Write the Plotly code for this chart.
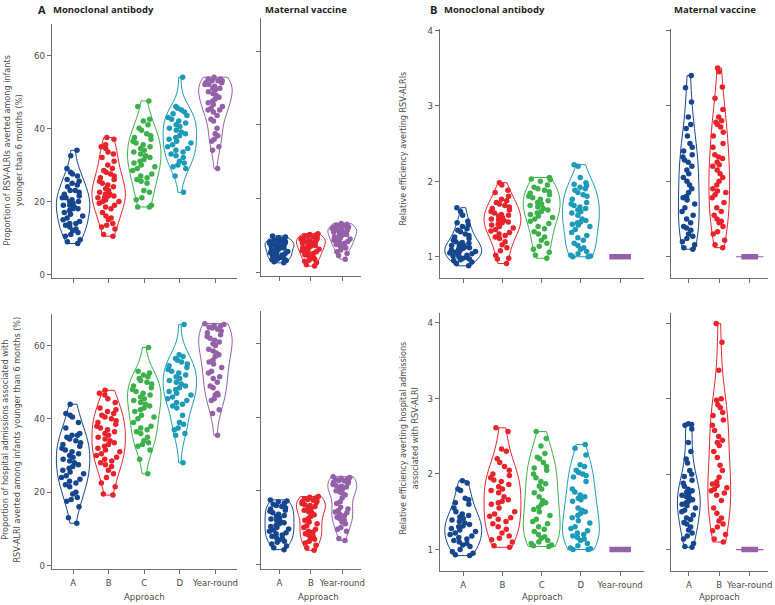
import plotly.graph_objects as go

W, H = 775, 605

COLORS = {'A': '#16468e', 'B': '#e8232b', 'C': '#3cb04a', 'D': '#1b9bb8', 'Year-round': '#9460a8'}
MONO_CATS = ['A', 'B', 'C', 'D', 'Year-round']
MAT_CATS = ['A', 'B', 'Year-round']

# --- panel A, top: proportion of RSV-ALRIs averted (%) ---
alri_mono_A = [34.0, 32.5, 29.0, 28.0, 27.5, 27.0, 26.0, 25.5, 25.0, 24.5, 24.0, 23.0, 23.0, 22.5, 22.0, 21.5,
               21.0, 21.0, 20.5, 20.0, 20.0, 19.5, 19.0, 19.0, 18.5, 18.0, 18.0, 17.5, 17.0, 16.5, 16.0, 15.5,
               15.0, 14.5, 14.0, 14.0, 13.5, 13.0, 12.5, 12.0, 11.5, 11.0, 10.5, 9.5, 9.0, 8.5]
alri_mono_B = [37.5, 37.0, 35.5, 35.0, 34.5, 33.5, 33.0, 32.0, 31.0, 30.0, 29.0, 28.5, 28.0, 27.5, 27.0, 26.5,
               26.0, 25.5, 25.0, 24.5, 24.0, 23.5, 23.0, 22.5, 22.0, 22.0, 21.5, 21.5, 21.0, 21.0, 20.5, 20.0,
               20.0, 19.5, 19.0, 18.5, 18.0, 17.0, 16.0, 15.5, 15.0, 14.0, 13.5, 13.0, 12.5, 11.0, 10.5]
alri_mono_C = [47.5, 46.0, 42.5, 42.0, 41.0, 40.0, 39.5, 38.5, 38.0, 37.5, 37.0, 36.5, 36.0, 35.5, 35.0, 34.5,
               34.0, 33.5, 33.0, 32.5, 32.0, 31.5, 31.0, 30.5, 30.0, 29.5, 29.0, 28.5, 27.5, 27.0, 26.5, 26.0,
               25.5, 25.0, 23.0, 22.5, 21.0, 20.5, 19.0, 18.5, 18.5]
alri_mono_D = [54.0, 46.0, 45.5, 45.0, 44.5, 44.0, 43.5, 43.0, 42.5, 42.0, 41.5, 41.0, 40.5, 40.0, 39.5, 39.0,
               38.5, 38.0, 37.5, 37.0, 36.5, 36.0, 35.5, 35.0, 34.5, 34.0, 33.5, 33.0, 32.5, 32.0, 31.0, 30.5,
               30.0, 29.5, 29.0, 27.0, 22.5]
alri_mono_YR = [54.0, 53.5, 53.5, 53.0, 53.0, 53.0, 52.5, 52.5, 52.0, 52.0, 51.5, 51.0, 51.0, 50.5, 50.0, 49.5,
                49.0, 48.5, 48.0, 47.5, 47.0, 46.5, 46.0, 45.5, 45.0, 45.0, 44.5, 43.5, 42.5, 42.0, 40.0, 38.5,
                38.0, 37.0, 36.5, 35.0, 34.0, 29.0]
alri_mat_A = [9.8, 9.5, 9.3, 9.0, 8.8, 8.6, 8.5, 8.3, 8.2, 8.0, 7.9, 7.8, 7.6, 7.5, 7.3, 7.2, 7.0, 6.9, 6.7, 6.5,
              6.3, 6.1, 6.0, 5.8, 5.6, 5.4, 5.2, 5.0, 4.8, 4.6, 4.4, 4.2, 4.0, 3.9, 3.7, 3.5, 3.3, 3.1, 2.8, 2.5]
alri_mat_B = [10.4, 10.2, 10.0, 9.8, 9.7, 9.5, 9.4, 9.2, 9.0, 8.9, 8.7, 8.5, 8.3, 8.2, 8.0, 7.8, 7.6, 7.4, 7.2,
              7.0, 6.8, 6.6, 6.4, 6.2, 6.0, 5.8, 5.5, 5.2, 5.0, 4.7, 4.4, 4.1, 3.8, 3.5, 3.2, 2.9, 2.5, 2.0, 1.6]
alri_mat_YR = [13.2, 13.0, 12.8, 12.6, 12.5, 12.3, 12.1, 12.0, 11.8, 11.6, 11.5, 11.3, 11.1, 11.0, 10.8, 10.6,
               10.4, 10.2, 10.0, 9.8, 9.5, 9.2, 9.0, 8.8, 8.6, 8.3, 8.0, 7.8, 7.5, 7.2, 7.0, 6.8, 6.5, 6.0, 5.5,
               5.0, 4.5, 3.5]

# --- panel A, bottom: proportion of hospital admissions averted (%) ---
hosp_mono_A = [44.0, 41.5, 41.0, 40.5, 39.0, 37.5, 36.0, 35.5, 35.5, 35.0, 34.5, 34.0, 33.5, 33.0, 32.5, 32.0,
               31.5, 31.0, 30.5, 30.0, 29.5, 29.0, 28.5, 28.0, 27.5, 27.0, 26.5, 26.0, 25.5, 25.0, 24.5, 24.0,
               23.5, 23.0, 22.5, 22.0, 21.5, 20.0, 19.5, 18.5, 18.0, 17.5, 16.0, 13.0, 11.5]
hosp_mono_B = [47.8, 47.0, 46.5, 45.5, 44.5, 43.0, 42.5, 42.0, 41.5, 41.0, 40.5, 40.0, 39.5, 39.0, 38.5, 38.0,
               37.5, 37.0, 36.5, 36.0, 35.5, 35.0, 34.5, 34.0, 33.5, 33.0, 32.5, 32.0, 31.5, 31.0, 30.5, 30.0,
               29.5, 29.0, 28.5, 28.0, 27.5, 27.0, 26.0, 25.0, 24.0, 22.5, 21.5, 19.5, 19.2]
hosp_mono_C = [59.5, 53.0, 52.5, 52.0, 51.5, 51.0, 50.5, 50.0, 49.5, 49.0, 48.5, 48.0, 47.5, 47.0, 46.5, 46.0,
               45.5, 45.0, 44.5, 44.0, 43.5, 43.0, 42.5, 42.0, 41.0, 40.5, 40.0, 39.0, 38.0, 37.5, 37.0, 36.5,
               36.0, 35.0, 34.0, 33.5, 33.0, 32.5, 31.5, 29.0, 25.0]
hosp_mono_D = [65.8, 57.5, 57.0, 56.5, 56.0, 55.5, 55.0, 54.5, 54.0, 53.5, 53.0, 52.5, 52.0, 51.5, 51.0, 50.5,
               50.0, 49.5, 49.0, 48.5, 48.0, 47.5, 47.0, 46.5, 46.0, 45.5, 45.0, 44.5, 44.0, 43.5, 43.0, 41.0,
               39.0, 38.5, 37.5, 37.0, 36.0, 35.5, 28.0]
hosp_mono_YR = [66.0, 65.8, 65.5, 65.3, 65.0, 64.8, 64.5, 64.0, 63.5, 63.0, 62.5, 62.0, 61.5, 61.0, 60.5, 60.0,
                59.0, 58.5, 58.0, 57.5, 57.0, 56.0, 55.5, 55.0, 54.0, 53.0, 52.5, 51.5, 51.0, 50.0, 49.0, 48.5,
                47.0, 46.5, 46.5, 45.5, 45.0, 42.5, 41.5, 35.5]
hosp_mat_A = [17.5, 17.2, 17.0, 16.6, 16.3, 16.0, 15.7, 15.4, 15.0, 14.7, 14.4, 14.0, 13.6, 13.3, 13.0, 12.6,
              12.3, 12.0, 11.6, 11.3, 11.0, 10.6, 10.3, 10.0, 9.6, 9.3, 9.0, 8.6, 8.3, 8.0, 7.6, 7.3, 7.0, 6.6,
              6.3, 6.0, 5.5, 5.0, 4.5, 4.0]
hosp_mat_B = [18.4, 18.2, 18.0, 17.8, 17.6, 17.4, 17.2, 17.0, 16.8, 16.5, 16.2, 16.0, 15.7, 15.4, 15.0, 14.7,
              14.3, 14.0, 13.5, 13.0, 12.5, 12.0, 11.5, 11.0, 10.5, 10.0, 9.5, 9.0, 8.7, 8.3, 8.0, 7.6, 7.2, 6.8,
              6.3, 5.8, 5.2, 4.5, 3.8]
hosp_mat_YR = [23.8, 23.6, 23.4, 23.2, 23.0, 22.8, 22.6, 22.4, 22.2, 22.0, 21.7, 21.4, 21.2, 21.0, 20.7, 20.4,
               20.0, 19.6, 19.2, 18.8, 18.0, 17.0, 16.5, 15.5, 15.0, 14.6, 14.2, 14.0, 13.6, 13.2, 12.8, 12.4,
               12.0, 11.5, 11.0, 10.0, 9.5, 9.0, 7.0, 6.5]

# --- panel B, top: relative efficiency averting RSV-ALRIs ---
eff_alri_mono_A = [1.65, 1.60, 1.55, 1.47, 1.45, 1.42, 1.40, 1.37, 1.35, 1.33, 1.30, 1.28, 1.26, 1.24, 1.22,
                   1.20, 1.19, 1.18, 1.17, 1.16, 1.15, 1.14, 1.13, 1.12, 1.11, 1.10, 1.09, 1.08, 1.07, 1.06,
                   1.05, 1.04, 1.03, 1.02, 1.01, 1.00, 0.99, 0.98, 0.97, 0.96, 0.95, 0.93, 0.91, 0.88]
eff_alri_mono_B = [1.98, 1.95, 1.88, 1.85, 1.80, 1.76, 1.74, 1.72, 1.70, 1.68, 1.66, 1.64, 1.62, 1.60, 1.58,
                   1.56, 1.55, 1.54, 1.52, 1.50, 1.49, 1.48, 1.46, 1.45, 1.43, 1.42, 1.40, 1.38, 1.36, 1.34,
                   1.32, 1.30, 1.28, 1.26, 1.24, 1.20, 1.16, 1.12, 1.08, 1.02, 0.98, 0.97, 0.91]
eff_alri_mono_C = [2.05, 2.03, 2.02, 2.00, 1.95, 1.92, 1.90, 1.88, 1.86, 1.84, 1.82, 1.80, 1.78, 1.76, 1.74,
                   1.72, 1.70, 1.68, 1.66, 1.64, 1.62, 1.60, 1.58, 1.56, 1.54, 1.52, 1.50, 1.47, 1.44, 1.40,
                   1.37, 1.33, 1.30, 1.26, 1.22, 1.18, 1.14, 1.10, 1.06, 1.02, 0.98]
eff_alri_mono_D = [2.22, 2.20, 2.05, 1.98, 1.96, 1.94, 1.92, 1.90, 1.88, 1.85, 1.82, 1.80, 1.76, 1.72, 1.70,
                   1.68, 1.66, 1.64, 1.62, 1.60, 1.58, 1.55, 1.50, 1.48, 1.46, 1.45, 1.43, 1.42, 1.40, 1.36,
                   1.32, 1.28, 1.25, 1.22, 1.18, 1.15, 1.12, 1.10, 1.07, 1.04, 1.02, 1.01, 1.00, 1.00]
eff_alri_mat_A = [3.40, 3.24, 3.05, 2.85, 2.75, 2.70, 2.60, 2.50, 2.45, 2.40, 2.35, 2.32, 2.28, 2.25, 2.20,
                  2.15, 2.10, 2.05, 2.00, 1.95, 1.90, 1.85, 1.80, 1.78, 1.75, 1.70, 1.65, 1.60, 1.55, 1.50,
                  1.45, 1.40, 1.38, 1.35, 1.30, 1.27, 1.24, 1.20, 1.16, 1.12, 1.10]
eff_alri_mat_B = [3.50, 3.45, 3.25, 3.10, 2.95, 2.85, 2.80, 2.78, 2.75, 2.72, 2.65, 2.60, 2.50, 2.45, 2.35,
                  2.32, 2.30, 2.25, 2.22, 2.20, 2.15, 2.10, 2.05, 2.00, 1.95, 1.90, 1.87, 1.85, 1.82, 1.78,
                  1.72, 1.65, 1.60, 1.55, 1.50, 1.47, 1.45, 1.40, 1.33, 1.30, 1.22, 1.16, 1.12]

# --- panel B, bottom: relative efficiency averting hospital admissions ---
eff_hosp_mono_A = [1.91, 1.88, 1.80, 1.78, 1.68, 1.66, 1.62, 1.60, 1.55, 1.50, 1.47, 1.45, 1.43, 1.41, 1.39,
                   1.37, 1.35, 1.33, 1.31, 1.30, 1.28, 1.26, 1.24, 1.22, 1.20, 1.18, 1.16, 1.14, 1.12, 1.10,
                   1.08, 1.06, 1.04, 1.00, 0.97, 0.95, 0.93, 0.92]
eff_hosp_mono_B = [2.61, 2.56, 2.33, 2.30, 2.20, 2.15, 2.10, 2.05, 2.00, 1.98, 1.95, 1.92, 1.90, 1.86, 1.83,
                   1.80, 1.78, 1.75, 1.70, 1.66, 1.64, 1.62, 1.60, 1.55, 1.50, 1.47, 1.44, 1.42, 1.40, 1.37,
                   1.34, 1.30, 1.27, 1.22, 1.18, 1.15, 1.13, 1.10, 1.05, 1.03]
eff_hosp_mono_C = [2.56, 2.47, 2.37, 2.27, 2.22, 2.20, 2.15, 2.10, 2.08, 2.05, 2.00, 1.95, 1.90, 1.87, 1.84,
                   1.80, 1.75, 1.70, 1.65, 1.62, 1.60, 1.56, 1.53, 1.50, 1.45, 1.40, 1.37, 1.34, 1.30, 1.27,
                   1.24, 1.20, 1.17, 1.15, 1.12, 1.10, 1.08, 1.06, 1.05, 1.04]
eff_hosp_mono_D = [2.39, 2.34, 2.25, 2.12, 2.10, 2.05, 2.02, 2.00, 1.98, 1.96, 1.90, 1.80, 1.76, 1.72, 1.70,
                   1.68, 1.66, 1.64, 1.55, 1.52, 1.50, 1.48, 1.45, 1.42, 1.38, 1.35, 1.30, 1.28, 1.25, 1.22,
                   1.20, 1.18, 1.16, 1.14, 1.12, 1.08, 1.05, 1.02, 1.01, 1.00, 1.00]
eff_hosp_mat_A = [2.67, 2.66, 2.65, 2.60, 2.42, 2.30, 2.20, 2.15, 2.05, 2.00, 1.97, 1.92, 1.88, 1.84, 1.80,
                  1.78, 1.76, 1.74, 1.72, 1.70, 1.68, 1.66, 1.64, 1.62, 1.60, 1.58, 1.55, 1.52, 1.50, 1.46,
                  1.42, 1.40, 1.36, 1.34, 1.30, 1.26, 1.22, 1.18, 1.14, 1.08, 1.04, 1.03]
eff_hosp_mat_B = [4.00, 3.75, 3.38, 3.00, 2.98, 2.92, 2.88, 2.82, 2.78, 2.72, 2.65, 2.58, 2.50, 2.45, 2.42,
                  2.38, 2.30, 2.22, 2.12, 2.05, 1.96, 1.90, 1.87, 1.85, 1.82, 1.80, 1.78, 1.75, 1.72, 1.65,
                  1.55, 1.48, 1.42, 1.38, 1.34, 1.30, 1.25, 1.20, 1.14, 1.10]

# year-round is the reference strategy: relative efficiency is 1 in every run
eff_year_round = [1.0, 1.0, 1.0, 1.0, 1.0, 1.0, 1.0, 1.0, 1.0, 1.0, 1.0, 1.0, 1.0, 1.0, 1.0,
                  1.0, 1.0, 1.0, 1.0, 1.0, 1.0, 1.0, 1.0, 1.0, 1.0, 1.0, 1.0, 1.0, 1.0, 1.0]

FONT = 'Liberation Sans Narrow, DejaVu Sans Condensed, Arial Narrow, sans-serif'
TXT = '#4a4a4a'
AXC = '#6e6e6e'


def xdom(x0, x1):
    return [x0 / W, x1 / W]


def ydom(top, bottom):
    return [1 - bottom / H, 1 - top / H]


# (suffix, groups, x domain px, y domain px, y range, y ticks, show y labels, show x labels, violin width)
panels = [
    ('', {'A': alri_mono_A, 'B': alri_mono_B, 'C': alri_mono_C, 'D': alri_mono_D, 'Year-round': alri_mono_YR},
     (52, 238), (20, 277), [-1.0, 68.6], [0, 20, 40, 60], True, False, 0.94),
    ('2', {'A': alri_mat_A, 'B': alri_mat_B, 'Year-round': alri_mat_YR},
     (262, 363), (14, 275), [-1.16, 69.07], [0, 20, 40, 60], False, False, 0.92),
    ('3', {'A': eff_alri_mono_A, 'B': eff_alri_mono_B, 'C': eff_alri_mono_C, 'D': eff_alri_mono_D,
           'Year-round': eff_year_round},
     (442, 647), (25, 277), [0.715, 4.02], [1, 2, 3, 4], True, False, 0.94),
    ('4', {'A': eff_alri_mat_A, 'B': eff_alri_mat_B, 'Year-round': eff_year_round},
     (674, 772), (25, 277), [0.715, 4.02], [1, 2, 3, 4], False, False, 0.68),
    ('5', {'A': hosp_mono_A, 'B': hosp_mono_B, 'C': hosp_mono_C, 'D': hosp_mono_D, 'Year-round': hosp_mono_YR},
     (52, 238), (313, 571), [-1.08, 68.66], [0, 20, 40, 60], True, True, 0.94),
    ('6', {'A': hosp_mat_A, 'B': hosp_mat_B, 'Year-round': hosp_mat_YR},
     (262, 363), (310, 571), [-1.35, 68.8], [0, 20, 40, 60], False, True, 0.92),
    ('7', {'A': eff_hosp_mono_A, 'B': eff_hosp_mono_B, 'C': eff_hosp_mono_C, 'D': eff_hosp_mono_D,
           'Year-round': eff_year_round},
     (442, 647), (312, 573), [0.712, 4.13], [1, 2, 3, 4], True, True, 0.94),
    ('8', {'A': eff_hosp_mat_A, 'B': eff_hosp_mat_B, 'Year-round': eff_year_round},
     (674, 772), (312, 573), [0.711, 4.14], [1, 2, 3, 4], False, True, 0.75),
]

fig = go.Figure()
layout = {}

for sfx, groups, xd, yd, yr, yt, ylab, xlab, vw in panels:
    cats = list(groups.keys())
    maternal = len(cats) == 3
    xa, ya = 'x' + sfx, 'y' + sfx
    for cat, vals in groups.items():
        col = COLORS[cat]
        if min(vals) == max(vals):
            # constant series: draw as a flat bar of dots
            if maternal:
                fig.add_trace(go.Box(x=[cat] * len(vals), y=vals, width=0.9, line=dict(color=col, width=1.2),
                                     fillcolor=col, boxpoints=False, showlegend=False, hoverinfo='y',
                                     xaxis=xa, yaxis=ya))
            fig.add_trace(go.Box(x=[cat] * len(vals), y=vals, width=0.55, line=dict(color=col, width=5.5),
                                 fillcolor=col, boxpoints=False, showlegend=False, hoverinfo='y',
                                 xaxis=xa, yaxis=ya))
            continue
        fig.add_trace(go.Violin(
            x=[cat] * len(vals), y=vals, name=cat,
            points='all', pointpos=0, jitter=0.75,
            marker=dict(color=col, size=5.5, line=dict(width=0)),
            line=dict(color=col, width=1), fillcolor='rgba(255,255,255,0)',
            spanmode='hard', scalegroup='g' + sfx, scalemode='width', width=vw,
            showlegend=False, hoveron='points', xaxis=xa, yaxis=ya))

    layout['xaxis' + sfx] = dict(
        domain=xdom(*xd), anchor=ya, type='category', categoryorder='array', categoryarray=cats,
        range=[-0.6, len(cats) - 0.4], showline=True, linecolor=AXC, linewidth=1,
        ticks='outside', ticklen=4, tickcolor=AXC, showgrid=False, zeroline=False,
        showticklabels=xlab, tickfont=dict(family=FONT, size=9.5, color=TXT), fixedrange=True)
    layout['yaxis' + sfx] = dict(
        domain=ydom(*yd), anchor=xa, range=yr, tickvals=yt, showline=True, linecolor=AXC, linewidth=1,
        ticks='outside', ticklen=4, tickcolor=AXC, showgrid=False, zeroline=False,
        showticklabels=ylab, tickfont=dict(family=FONT, size=9.5, color=TXT), fixedrange=True)


def ann(text, x, y, size=9, color=TXT, xanchor='center', angle=0, family=FONT):
    return dict(text=text, x=x / W, y=1 - y / H, xref='paper', yref='paper', showarrow=False,
                xanchor=xanchor, yanchor='middle', textangle=angle,
                font=dict(family=family, size=size, color=color))


TITLE_FONT = 'Open Sans, DejaVu Sans, sans-serif'
annotations = [
    ann('<b>A</b>', 36, 6, size=11, color='#1e1e1e', xanchor='left', family=TITLE_FONT),
    ann('<b>Monoclonal antibody</b>', 51, 6, size=9.5, color='#1e1e1e', xanchor='left', family=TITLE_FONT),
    ann('<b>Maternal vaccine</b>', 264, 6, size=9.5, color='#1e1e1e', xanchor='left', family=TITLE_FONT),
    ann('<b>B</b>', 430, 6, size=11, color='#1e1e1e', xanchor='left', family=TITLE_FONT),
    ann('<b>Monoclonal antibody</b>', 444, 6, size=9.5, color='#1e1e1e', xanchor='left', family=TITLE_FONT),
    ann('<b>Maternal vaccine</b>', 675, 6, size=9.5, color='#1e1e1e', xanchor='left', family=TITLE_FONT),
    ann('Proportion of RSV-ALRIs averted among infants<br>younger than 6 months (%)', 13, 148, angle=-90),
    ann('Proportion of hospital admissions associated with<br>RSV-ALRI averted among infants younger than 6 months (%)',
        11, 440, angle=-90),
    ann('Relative efficiency averting RSV-ALRIs', 405, 146, angle=-90),
    ann('Relative efficiency averting hospital admissions<br>associated with RSV-ALRI', 411, 438, angle=-90),
    ann('Approach', 145, 598, size=9.5),
    ann('Approach', 320, 598, size=9.5),
    ann('Approach', 545, 598, size=9.5),
    ann('Approach', 723, 598, size=9.5),
]

fig.update_layout(
    width=W, height=H, margin=dict(l=0, r=0, t=0, b=0),
    paper_bgcolor='white', plot_bgcolor='white', showlegend=False,
    annotations=annotations, **layout)

# the page's default body margin would push the figure 8px off; drop it
fig.write_html("out.html", config={'displayModeBar': False},
               post_script="document.body.style.margin='0px';document.body.style.overflow='hidden';")
